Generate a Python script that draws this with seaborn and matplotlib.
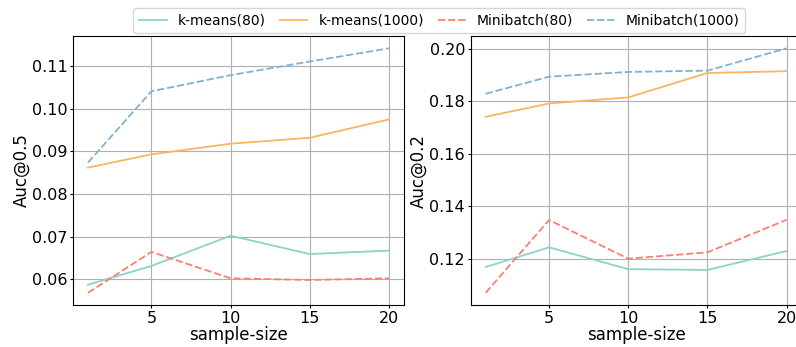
import matplotlib
matplotlib.use("Agg")
import matplotlib.pyplot as plt
import pandas as pd
import seaborn as sns

# sample sizes on the x axis
sample_size = [1, 5, 10, 15, 20]
methods = ["k-means(80)", "k-means(1000)", "Minibatch(80)", "Minibatch(1000)"]

# Auc@0.5 values
auc05_kmeans80 = [0.0587, 0.0631, 0.0702, 0.0659, 0.0667]
auc05_kmeans1000 = [0.0862, 0.0893, 0.0918, 0.0932, 0.0975]
auc05_mini80 = [0.0568, 0.0664, 0.0602, 0.0598, 0.0602]
auc05_mini1000 = [0.0874, 0.1041, 0.1079, 0.1111, 0.1142]

# Auc@0.2 values
auc02_kmeans80 = [0.1168, 0.1243, 0.1160, 0.1157, 0.1229]
auc02_kmeans1000 = [0.1740, 0.1791, 0.1814, 0.1907, 0.1914]
auc02_mini80 = [0.1070, 0.1347, 0.1200, 0.1224, 0.1348]
auc02_mini1000 = [0.1828, 0.1893, 0.1911, 0.1916, 0.2001]


def to_long(series, col):
    rows = []
    for name, vals in zip(methods, series):
        for x, v in zip(sample_size, vals):
            rows.append({"sample-size": x, col: v, "method": name})
    return pd.DataFrame(rows)


df05 = to_long([auc05_kmeans80, auc05_kmeans1000, auc05_mini80, auc05_mini1000], "Auc@0.5")
df02 = to_long([auc02_kmeans80, auc02_kmeans1000, auc02_mini80, auc02_mini1000], "Auc@0.2")

set3 = sns.color_palette("Set3")
palette = {
    "k-means(80)": set3[0],
    "k-means(1000)": set3[5],
    "Minibatch(80)": set3[3],
    "Minibatch(1000)": set3[4],
}
dashes = {
    "k-means(80)": "",
    "k-means(1000)": "",
    "Minibatch(80)": (4, 1.6),
    "Minibatch(1000)": (4, 1.6),
}

fig = plt.figure(figsize=(7.96, 3.47), dpi=100)
ax1 = fig.add_axes([0.0917, 0.121, 0.4158, 0.775])
ax2 = fig.add_axes([0.5913, 0.121, 0.4158, 0.775])

for ax, df, col in [(ax1, df05, "Auc@0.5"), (ax2, df02, "Auc@0.2")]:
    sns.lineplot(
        data=df,
        x="sample-size",
        y=col,
        hue="method",
        style="method",
        palette=palette,
        dashes=dashes,
        linewidth=1.3,
        ax=ax,
    )
    ax.set_xticks([5, 10, 15, 20])
    ax.grid(True, color="#b0b0b0", linewidth=0.8)
    ax.tick_params(labelsize=11.5, length=2.5, pad=1.5)
    ax.set_xlabel("sample-size", fontsize=12, labelpad=0)
    ax.set_ylabel(col, fontsize=12, labelpad=1)
    ax.get_legend().remove()

ax1.set_yticks([0.06, 0.07, 0.08, 0.09, 0.10, 0.11])
ax2.set_yticks([0.12, 0.14, 0.16, 0.18, 0.20])

handles, labels = ax1.get_legend_handles_labels()
fig.legend(
    handles,
    labels,
    loc="upper center",
    bbox_to_anchor=(0.552, 0.997),
    ncol=4,
    fontsize=10,
    frameon=True,
    columnspacing=1.0,
)

fig.savefig("out.png", dpi=100)
